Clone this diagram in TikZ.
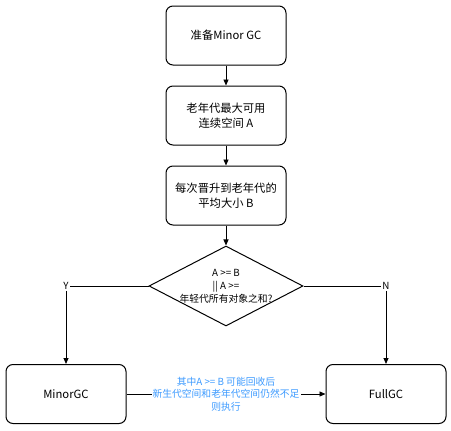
\documentclass[tikz,border=0pt]{standalone}
\usepackage{fontspec}
\setmainfont{Noto Sans CJK SC}
\usetikzlibrary{arrows.meta,shapes.geometric}
\definecolor{lbl}{HTML}{3D9BFF}
\begin{document}
\begin{tikzpicture}[x=1pt,y=-1pt,
  box/.style={draw,line width=1pt,rounded corners=7pt,minimum width=120pt,minimum height=59pt,align=center,font=\fontsize{11.3}{15}\selectfont},
  dec/.style={draw,line width=1pt,diamond,aspect=1.9,minimum width=154pt,minimum height=80pt,inner sep=0pt,align=center,font=\fontsize{9.8}{13}\selectfont},
  arr/.style={line width=0.8pt,-{Triangle[length=6pt,width=5pt]}},
  ln/.style={line width=0.8pt}]
\useasboundingbox (0,0) rectangle (451,431);
\node[box] (b1) at (226,35.5) {准备Minor GC};
\node[box] (b2) at (226,115.5) {老年代最大可用\\连续空间 A};
\node[box] (b3) at (226,195.5) {每次晋升到老年代的\\平均大小 B};
\node[dec,text depth=0pt] (d) at (226,286) {};
\node[align=center,font=\fontsize{9.8}{13}\selectfont,inner sep=0pt] (dt) at (226,286) {A >= B\\|| A >=\\年轻代所有对象之和?};
\node[box] (minor) at (66,394) {MinorGC};
\node[box] (full) at (386,394) {FullGC};
\node[inner sep=1pt,font=\fontsize{9.8}{13}\selectfont] (y) at (66,286) {Y};
\node[inner sep=1pt,font=\fontsize{9.8}{13}\selectfont] (n) at (386,286) {N};
\draw[arr] (b1) -- (b2);
\draw[arr] (b2) -- (b3);
\draw[arr] (b3) -- (d);
\draw[ln] (d.west) -- (y);
\draw[arr] (y) -- (minor.north);
\draw[ln] (d.east) -- (n);
\draw[arr] (n) -- (full.north);
\draw[arr] (minor) -- node[fill=white,text=lbl,align=center,inner sep=1pt,font=\fontsize{9.8}{12.5}\selectfont] (lab) {其中A >= B 可能回收后\\新生代空间和老年代空间仍然不足\\则执行} (full);
\end{tikzpicture}
\end{document}
